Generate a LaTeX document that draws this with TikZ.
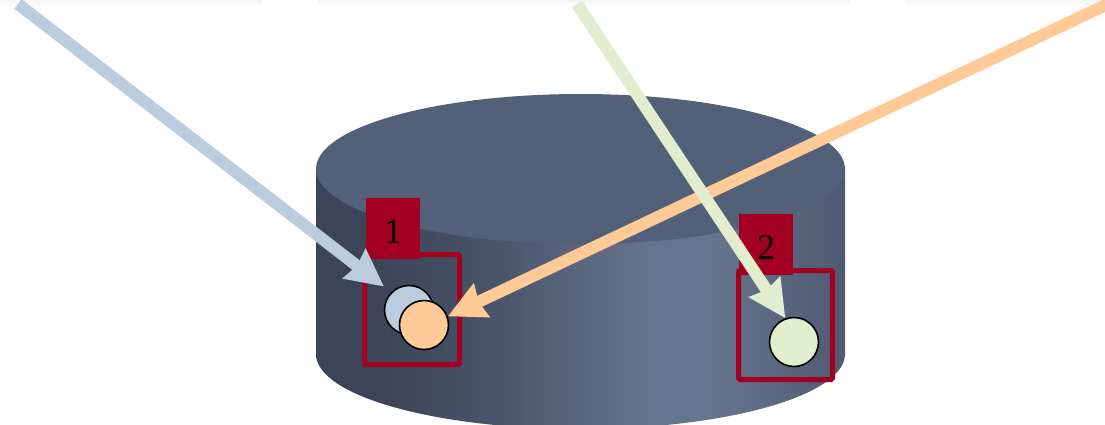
\documentclass[tikz,border=0pt]{standalone}
\usepackage{fontspec}
\setmainfont{Liberation Serif}
\usetikzlibrary{arrows.meta}
\definecolor{sideA}{HTML}{3C4457}
\definecolor{sideB}{HTML}{4A556B}
\definecolor{sideC}{HTML}{66758F}
\definecolor{sideD}{HTML}{4E5970}
\definecolor{topc}{HTML}{52607A}
\definecolor{boxred}{HTML}{A30021}
\definecolor{arrblue}{HTML}{BACCDD}
\definecolor{arrgreen}{HTML}{E2EDD0}
\definecolor{arrorange}{HTML}{FFCA96}
\tikzset{
  outline/.style={draw=boxred, line width=5pt, rounded corners=1.5pt, inner sep=0pt},
  tag/.style={fill=boxred, inner sep=0pt, minimum width=54pt, minimum height=61pt},
  tagtext/.style={inner sep=0pt, font=\fontsize{36}{36}\selectfont},
  dot/.style={circle, draw=black, line width=1.6pt, minimum size=49pt, inner sep=0pt},
  flow/.style={line width=12pt, -{Stealth[length=37pt, width=36pt, inset=3pt]}},
}
\begin{document}
\begin{tikzpicture}[x=1pt,y=-1pt]
\useasboundingbox (0,0) rectangle (1105,424);
\clip (0,0) rectangle (1105,424);
\fill[white] (0,0) rectangle (1105,424);
% faint shadows at the top edge
\shade[top color=black!4, bottom color=white] (0,0) rectangle (262,7);
\shade[top color=black!4, bottom color=white] (318,0) rectangle (850,7);
\shade[top color=black!4, bottom color=white] (905,0) rectangle (1105,7);
% cylinder side
\begin{scope}
\clip (316,169) -- (316,354) arc[start angle=180, end angle=0, x radius=264.5, y radius=75] -- (845,169) -- cycle;
\shade[left color=sideA, right color=sideA] (310,160) rectangle (380,440);
\shade[left color=sideA, right color=sideB] (380,160) rectangle (500,440);
\shade[left color=sideB, right color=sideC] (500,160) rectangle (650,440);
\shade[left color=sideC, right color=sideC] (650,160) rectangle (710,440);
\shade[left color=sideC, right color=sideD] (710,160) rectangle (850,440);
\end{scope}
% cylinder top
\fill[topc] (580.5,169) ellipse[x radius=264.5, y radius=75];
% boxes
\node[outline, minimum width=95pt, minimum height=110pt] (box1) at (412,309.5) {};
\node[outline, minimum width=94pt, minimum height=109pt] (box2) at (785.5,325) {};
\node[tag] (tag1) at (393,228.5) {};
\node[tag] (tag2) at (766,244.5) {};
\node[tagtext] (t1) at (393,231.5) {1};
\node[tagtext] (t2) at (766,247.5) {2};
% circles
\node[dot, fill=arrblue] (bc) at (409,310) {};
\node[dot, fill=arrorange] (oc) at (424,325) {};
\node[dot, fill=arrgreen] (gc) at (794,342) {};
% arrows
\coordinate (bs) at (18,4);
\coordinate (os) at (1108,4);
\coordinate (gs) at (577,4);
\draw[flow, arrblue, shorten >=9pt] (bs) -- (bc.135);
\draw[flow, arrorange] (os) -- (oc.20);
\draw[flow, arrgreen] (gs) -- (gc.110);
\end{tikzpicture}
\end{document}
